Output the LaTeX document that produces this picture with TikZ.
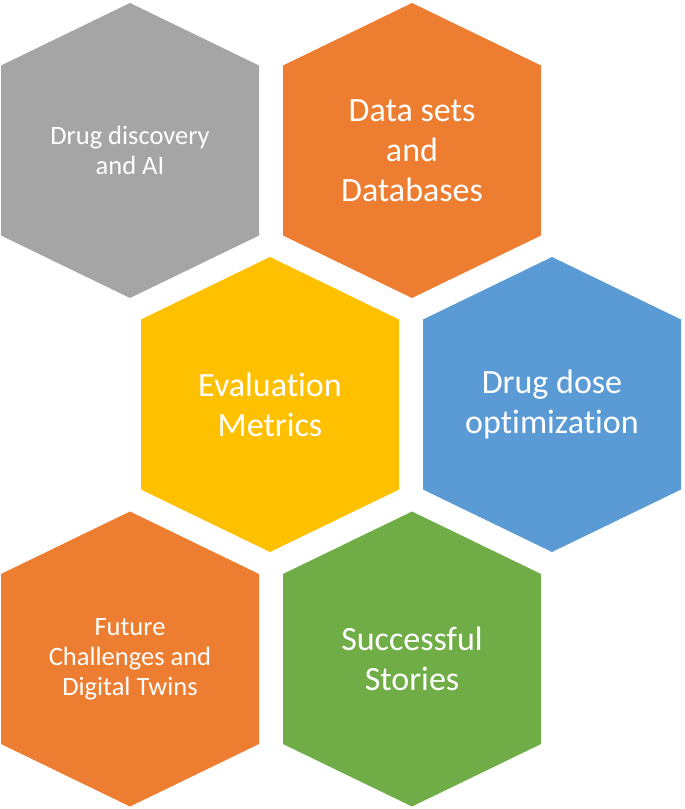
\documentclass[tikz,border=0pt]{standalone}
\usepackage{fontspec}
\setmainfont{Carlito}[Ligatures=NoCommon]
\usepackage{tikz}
\usetikzlibrary{backgrounds}

\definecolor{hexgray}{HTML}{A5A5A5}
\definecolor{hexorange}{HTML}{ED7D31}
\definecolor{hexyellow}{HTML}{FFC000}
\definecolor{hexblue}{HTML}{5B9BD5}
\definecolor{hexgreen}{HTML}{70AD47}

% stretched hexagon round a named node, pointy side up
\newcommand{\hexcell}[2]{\fill[#2] (#1.center) ++(0,-147.5) -- ++(129,62.5)
  -- ++(0,170) -- ++(-129,62.5) -- ++(-129,-62.5) -- ++(0,-170) -- cycle;}

\begin{document}
\begin{tikzpicture}[x=1pt,y=-1pt,
  bigtxt/.style={text=white,align=center,font=\fontsize{34}{40}\selectfont},
  smalltxt/.style={text=white,align=center,font=\fontsize{26.5}{30}\selectfont}]
  \useasboundingbox (0,0) rectangle (685,809);

  \node[smalltxt] (disc)    at (130,150.5) {Drug discovery\\and AI};
  \node[bigtxt]   (data)    at (412,150.5) {Data sets\\and\\Databases};
  \node[bigtxt]   (eval)    at (270,404.5) {Evaluation\\Metrics};
  \node[bigtxt]   (dose)    at (552,404.5) {Drug dose\\optimization};
  \node[smalltxt] (future)  at (130,659)   {Future\\Challenges and\\Digital Twins};
  \node[bigtxt]   (stories) at (412,659)   {Successful\\Stories};

  \begin{pgfonlayer}{background}
    \hexcell{disc}{hexgray}
    \hexcell{data}{hexorange}
    \hexcell{eval}{hexyellow}
    \hexcell{dose}{hexblue}
    \hexcell{future}{hexorange}
    \hexcell{stories}{hexgreen}
  \end{pgfonlayer}
\end{tikzpicture}
\end{document}
